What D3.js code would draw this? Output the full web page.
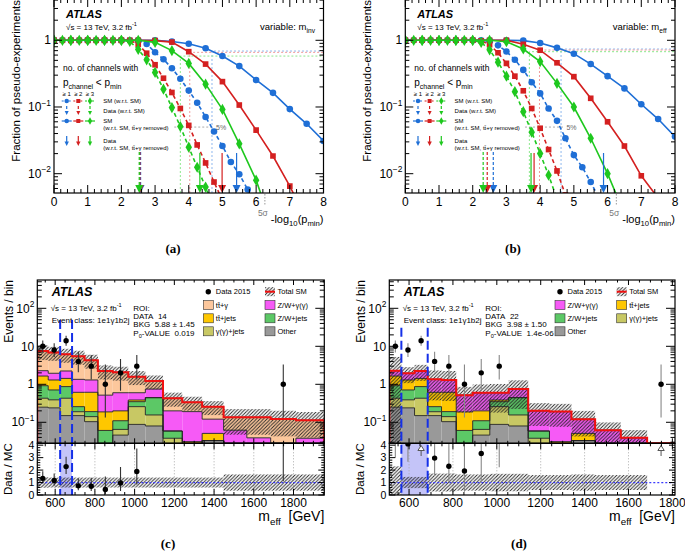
<!DOCTYPE html>
<html>
<head>
<meta charset="UTF-8">
<script src="https://cdn.jsdelivr.net/npm/d3@7"></script>
<style>
  body { margin: 0; background: #fff; }
  text { font-family: "Liberation Sans", Arial, Helvetica, sans-serif; }
</style>
</head>
<body>
<svg id="fig" width="685" height="552"></svg>
<script>
// ---------- panels (a),(b): fraction of pseudo-experiments ----------
const xDash  = [0, 0.25, 0.5, 0.75, 1, 1.25, 1.5, 1.75, 2, 2.25, 2.5, 2.75, 3, 3.25, 3.5, 3.75, 4, 4.25, 4.5, 4.75, 5, 5.25, 5.5, 5.75, 6];
const xSolid = [0, 0.5, 1, 1.5, 2, 2.5, 3, 3.5, 4, 4.5, 5, 5.5, 6, 6.5, 7, 7.5, 8];

// variable m_inv  (>=1, >=2, >=3 channels)
const aBlueDash   = [1,1,1,1,1,1,1,1,1,1, 0.99,0.88,0.66,0.52,0.38,0.265,0.176,0.116,0.071,0.043,0.026,0.015,0.0098,0.0058,0.0032];
const aRedDash    = [1,1,1,1,1,1,1,1,1,1, 0.87,0.64,0.43,0.27,0.165,0.095,0.053,0.027,0.0145,0.0075,0.004];
const aGreenDash  = [1,1,1,1,1,1,1,1,1, 0.96,0.73,0.51,0.33,0.185,0.098,0.051,0.025,0.0125,0.0063,0.003];
const aBlueSolid  = [1,1,1,1,1,1,1,0.96,0.89,0.76,0.58,0.41,0.254,0.163,0.093,0.056,0.031];
const aRedSolid   = [1,1,1,1,1,1,0.99,0.94,0.675,0.44,0.24,0.107,0.045,0.0184,0.0065,0.002];
const aGreenSolid = [1,1,1,1,1,1,0.93,0.70,0.45,0.22,0.092,0.028,0.008,0.0015];
const aThrX = [4.69, 4.03, 3.75];
const aThrF = [0.69, 0.66, 0.58];
const aFive = [3.57, 4.72];
const aDataDash  = [2.57, 2.55, 2.53];
const aDataSolid = [5.42, 4.99, 4.33];

// variable m_eff
const bBlueDash   = [1,1,1,1,1,1,1,1,1,1, 0.97,0.84,0.68,0.51,0.36,0.235,0.16,0.095,0.062,0.034,0.019,0.0125,0.0075,0.0042];
const bRedDash    = [1,1,1,1,1,1,1,1,1, 0.98,0.86,0.65,0.45,0.29,0.175,0.095,0.048,0.023,0.011,0.0048];
const bGreenDash  = [1,1,1,1,1,1,1,1,1, 0.93,0.72,0.47,0.29,0.17,0.085,0.042,0.02,0.0095,0.0042];
const bBlueSolid  = [1,1,1,1,1,1,1,0.99,0.91,0.77,0.63,0.44,0.29,0.19,0.11,0.066,0.036];
const bRedSolid   = [1,1,1,1,1,1,1,0.87,0.71,0.46,0.285,0.135,0.06,0.026,0.0093,0.0043];
const bGreenSolid = [1,1,1,1,1,1,0.95,0.74,0.48,0.226,0.10,0.034,0.01,0.0025];
const bThrX = [4.62, 3.98, 3.68];
const bThrF = [0.74, 0.715, 0.675];
const bFive = [3.55, 4.69];
const bDataDash  = [2.61, 2.43, 2.31];
const bDataSolid = [5.88, 3.82, 3.73];
const fiveSigma = 6.26;

// ---------- panels (c),(d): m_eff distribution, class 1e1γ1b2j ----------
const edges   = [510, 565, 625, 685, 748, 815, 890, 968, 1054, 1143, 1240, 1340, 1448, 1565, 1685, 1812, 1955];
const bkgOther  = [0.25, 0.24, 0.15, 0.15, 0.104, 0, 0.046, 0.088, 0.08, 0, 0, 0.033, 0, 0, 0, 0];
const bkgGJets  = [0.18, 0.15, 0.28, 0.04, 0.037, 0, 0.019, 0.17, 0.076, 0.038, 0, 0, 0, 0, 0, 0];
const bkgZWJets = [0.49, 0.32, 0.44, 0.068, 0.05, 0.061, 0.045, 0.091, 0.289, 0.021, 0, 0, 0, 0, 0, 0];
const bkgTTJets = [0.73, 0.59, 0.56, 0.357, 0.425, 0.127, 0.09, 0.037, 0, 0, 0.031, 0.018, 0, 0, 0, 0];
const bkgZWG    = [0.63, 0.65, 0.81, 0.735, 0.685, 0.33, 0.40, 0.214, 0.305, 0.141, 0.16, 0.07, 0.062, 0.039, 0, 0.038];
const bkgTTG    = [5.2, 4.95, 3.9, 4.1, 2.98, 1.72, 1.47, 0.99, 0.47, 0.23, 0.145, 0.137, 0.073, 0.096, 0.122, 0.075];
const dataCounts = [10, 8, 14, 4, 3, 1, 2, 3, 0, 0, 0, 0, 0, 0, 1, 0];
const relUncC = [0.42, 0.4, 0.4, 0.4, 0.4, 0.4, 0.4, 0.4, 0.4, 0.4, 0.4, 0.4, 0.65, 0.65, 0.65, 0.65];
const relUncD = [1.3, 0.45, 0.45, 0.72, 0.72, 0.65, 0.65, 0.7, 0.7, 0.6, 0.6, 0.65, 0.6, 0.6, 0];

const BLUE = "#1f6fd6", RED = "#d42020", GREEN = "#1ec81e";
const PALE = ["#8fb8ee", "#f09a9a", "#8de88d"];

const svg = d3.select("#fig");
const defs = svg.append("defs");
defs.append("pattern").attr("id", "hatch").attr("patternUnits", "userSpaceOnUse")
  .attr("width", 3.5).attr("height", 3.5)
  .append("path").attr("d", "M-1,1L1,-1M0,3.5L3.5,0M2.5,4.5L4.5,2.5")
  .attr("stroke", "#222").attr("stroke-width", 0.9);

// text with sub/superscripts
function rich(g, x, y, parts, size, o = {}) {
  const t = g.append("text").attr("x", x).attr("y", y).attr("font-size", size)
    .attr("text-anchor", o.anchor || "start").attr("fill", o.fill || "#000");
  if (o.weight) t.attr("font-weight", o.weight);
  if (o.style) t.attr("font-style", o.style);
  if (o.family) t.style("font-family", o.family);
  if (o.rotate) t.attr("transform", `rotate(${o.rotate},${x},${y})`);
  let off = 0;
  parts.forEach(p => {
    const [s, k] = Array.isArray(p) ? p : [p, ""];
    const target = k === "sup" ? -0.45 * size : k === "sub" ? 0.3 * size : 0;
    t.append("tspan").attr("dy", target - off).attr("font-size", k ? size * 0.7 : size).text(s);
    off = target;
  });
  return t;
}

function logTicks([a, b]) {
  const out = [];
  for (let e = Math.floor(Math.log10(a)); e <= Math.ceil(Math.log10(b)); e++)
    for (let k = 1; k < 10; k++) {
      const v = k * Math.pow(10, e);
      if (v >= a && v <= b) out.push({v, major: k === 1});
    }
  return out;
}
function linTicks(a, b, minor, major) {
  return d3.range(Math.ceil(a / minor - 1e-9) * minor, b + 1e-9, minor)
    .map(v => ({v, major: Math.abs(v / major - Math.round(v / major)) < 1e-6}));
}
function frameTicks(g, x, y, xt, yt, xl, yl, box, topTicks = true) {
  const [left, right, bottom, top] = box;
  const segs = [];
  xt.forEach(t => {
    const px = x(t.v), l = t.major ? xl[0] : xl[1];
    if (px < left - 0.1 || px > right + 0.1) return;
    segs.push([px, bottom, px, bottom - l]);
    if (topTicks) segs.push([px, top, px, top + l]);
  });
  yt.forEach(t => {
    const py = y(t.v), l = t.major ? yl[0] : yl[1];
    if (py < top - 0.1 || py > bottom + 0.1) return;
    segs.push([left, py, left + l, py], [right, py, right - l, py]);
  });
  g.append("g").selectAll("line").data(segs).join("line")
    .attr("x1", d => d[0]).attr("y1", d => d[1]).attr("x2", d => d[2]).attr("y2", d => d[3])
    .attr("stroke", "#000").attr("stroke-width", 1);
  g.append("rect").attr("x", left).attr("y", top).attr("width", right - left).attr("height", bottom - top)
    .attr("fill", "none").attr("stroke", "#000").attr("stroke-width", 1.2);
}

// ---------- scan panel ----------
function scanPanel(p) {
  const g = svg.append("g");
  const x = d3.scaleLinear().domain([0, 8]).range([p.x0, p.x1]);
  const y = d3.scaleLog().domain([0.005136, 4.16]).range([193, -1]);
  const cols = [BLUE, RED, GREEN];
  const cid = "clip" + p.id;
  g.append("clipPath").attr("id", cid).append("rect")
    .attr("x", p.x0).attr("y", -1).attr("width", p.x1 - p.x0).attr("height", 194);
  const inner = g.append("g").attr("clip-path", `url(#${cid})`);

  p.thrX.forEach((t, i) => {
    inner.append("path").attr("d", `M${x(t)},193V${y(p.thrF[i])}H${p.x1}`)
      .attr("fill", "none").attr("stroke", PALE[i]).attr("stroke-dasharray", "2,2");
  });
  inner.append("line").attr("x1", x(p.five[0])).attr("x2", x(p.five[1]))
    .attr("y1", y(0.05)).attr("y2", y(0.05)).attr("stroke", "#aaa").attr("stroke-dasharray", "2,2");
  rich(g, x(p.five[1]) + 3, y(0.05) + 2.5, ["5%"], 7, {fill: "#666"});

  const syms = [d3.symbolCircle, d3.symbolSquare, d3.symbolDiamond];
  const symSize = [34, 32, 36];
  const curve = (xs, vals, i, dashed) => {
    const pts = vals.map((v, j) => [xs[j], v]);
    inner.append("path").datum(pts)
      .attr("d", d3.line().x(d => x(d[0])).y(d => y(d[1])))
      .attr("fill", "none").attr("stroke", cols[i]).attr("stroke-width", 1.6)
      .attr("stroke-dasharray", dashed ? "4,3" : null);
    inner.append("g").selectAll("path").data(pts).join("path")
      .attr("transform", d => `translate(${x(d[0])},${y(d[1])})`)
      .attr("d", d3.symbol(syms[i], symSize[i])).attr("fill", cols[i]);
  };
  p.dash.forEach((v, i) => curve(xDash, v, i, true));
  p.solid.forEach((v, i) => curve(xSolid, v, i, false));

  const arrow = (gg, px, y1, y2, col, dashed, hw) => {
    gg.append("line").attr("x1", px).attr("x2", px).attr("y1", y1).attr("y2", y2 - hw * 1.8)
      .attr("stroke", col).attr("stroke-width", 1.2).attr("stroke-dasharray", dashed ? "3,2" : null);
    gg.append("path").attr("d", `M${px - hw},${y2 - hw * 2}L${px + hw},${y2 - hw * 2}L${px},${y2}Z`).attr("fill", col);
  };
  p.dataDash.forEach((v, i) => arrow(inner, x(v), 152, 193, cols[i], true, 4));
  p.dataSolid.forEach((v, i) => arrow(inner, x(v), 153, 193, cols[i], false, 4));

  frameTicks(g, x, y, linTicks(0, 8, 0.2, 1), logTicks(y.domain()), [8, 4], [8, 4], [p.x0, p.x1, 193, -1]);
  d3.range(0, 9).forEach(v => rich(g, x(v), 206, [String(v)], 12, {anchor: "middle"}));
  rich(g, p.x0 - 3, y(1) + 4.2, ["1"], 12, {anchor: "end"});
  rich(g, p.x0 - 3, y(0.1) + 4.2, ["10", ["\u22121", "sup"]], 12, {anchor: "end"});
  rich(g, p.x0 - 3, y(0.01) + 4.2, ["10", ["\u22122", "sup"]], 12, {anchor: "end"});
  rich(g, p.x1, 223, ["-log", ["10", "sub"], "(p", ["min", "sub"], ")"], 11, {anchor: "end"});
  const xs5 = x(fiveSigma);
  g.append("line").attr("x1", xs5).attr("x2", xs5).attr("y1", 194).attr("y2", 205)
    .attr("stroke", "#999").attr("stroke-dasharray", "1.5,1.5");
  rich(g, xs5 - 2, 216, ["5\u03c3"], 8.5, {anchor: "middle", fill: "#777"});
  rich(g, p.x0 - 34, 0, ["Fraction of pseudo-experiments"], 11.5, {anchor: "end", rotate: -90});

  rich(g, p.x0 + 12, 18, ["ATLAS"], 11, {weight: "bold", style: "italic"});
  rich(g, p.x0 + 12, 30, ["\u221as = 13 TeV, 3.2 fb", ["-1", "sup"]], 8);
  rich(g, p.x1 - 8.5, 30, ["variable: m", [p.varSub, "sub"]], 9.5, {anchor: "end"});

  // legend
  const lx = p.x0;
  rich(g, lx + 9, 71, ["no. of channels with"], 8.5);
  rich(g, lx + 9, 85.5, ["p", ["channel", "sub"], " < p", ["min", "sub"]], 10);
  const lc = [lx + 12.7, lx + 24.3, lx + 36];
  lc.forEach((c, i) => {
    rich(g, c, 96, ["\u2265 " + (i + 1)], 6, {anchor: "middle"});
    [[101, "4,3"], [121, null]].forEach(([yy, da]) => {
      g.append("line").attr("x1", c - 5).attr("x2", c + 5).attr("y1", yy).attr("y2", yy)
        .attr("stroke", cols[i]).attr("stroke-width", 1.2).attr("stroke-dasharray", da ? "2,1.5" : null);
      g.append("path").attr("transform", `translate(${c},${yy})`).attr("d", d3.symbol(syms[i], 16)).attr("fill", cols[i]);
    });
    arrow(g, c, 106, 115, cols[i], true, 2);
    arrow(g, c, 136, 146, cols[i], false, 2.2);
  });
  const tx = lx + 49.3;
  rich(g, tx, 103, ["SM (w.r.t. SM)"], 6);
  rich(g, tx, 113, ["Data (w.r.t. SM)"], 6);
  rich(g, tx, 123, ["SM"], 6);
  rich(g, tx, 130, ["(w.r.t. SM, tt\u0304+\u03b3 removed)"], 6);
  rich(g, tx, 143, ["Data"], 6);
  rich(g, tx, 150, ["(w.r.t. SM, tt\u0304+\u03b3 removed)"], 6);
}

scanPanel({id: "a", x0: 54, x1: 323.5, varSub: "inv",
  dash: [aBlueDash, aRedDash, aGreenDash], solid: [aBlueSolid, aRedSolid, aGreenSolid],
  thrX: aThrX, thrF: aThrF, five: aFive, dataDash: aDataDash, dataSolid: aDataSolid});
scanPanel({id: "b", x0: 405.3, x1: 675, varSub: "eff",
  dash: [bBlueDash, bRedDash, bGreenDash], solid: [bBlueSolid, bRedSolid, bGreenSolid],
  thrX: bThrX, thrF: bThrF, five: bFive, dataDash: bDataDash, dataSolid: bDataSolid});

// ---------- histogram panel ----------
const comps = {
  other:  {vals: bkgOther,  color: "#999999", label: ["Other"]},
  gjets:  {vals: bkgGJets,  color: "#c8c864", label: ["\u03b3(\u03b3)+jets"]},
  zwjets: {vals: bkgZWJets, color: "#5cc866", label: ["Z/W+jets"]},
  ttjets: {vals: bkgTTJets, color: "#fec700", label: ["tt\u0304+jets"]},
  zwg:    {vals: bkgZWG,    color: "#f65af6", label: ["Z/W+\u03b3(\u03b3)"]},
  ttg:    {vals: bkgTTG,    color: "#fcc79c", label: ["tt\u0304+\u03b3"]}
};

function musicPanel(p) {
  const nb = p.nb, yTop = 280, yMid = 443.3, yBot = 495, ymin = 0.028;
  const g = svg.append("g");
  const x = d3.scaleLinear().domain([edges[0], edges[nb]]).range([p.x0, p.x1]);
  const y = d3.scaleLog().domain([ymin, 556]).range([yMid, yTop]);
  const r = d3.scaleLinear().domain([0, 4.15]).range([yBot, yMid]);
  const bins = d3.range(nb);
  const rows = bins.map(i => Object.fromEntries(p.keys.map(k => [k, comps[k].vals[i]])));
  const series = d3.stack().keys(p.keys)(rows);
  const total = rows.map(o => d3.sum(p.keys, k => o[k]));
  const yc = v => y(Math.max(v, ymin));
  const bx = i => x(edges[i]), bw = i => x(edges[i + 1]) - x(edges[i]);
  const cx = i => x((edges[i] + edges[i + 1]) / 2);

  const cu = "clipU" + p.id, cr = "clipR" + p.id;
  g.append("clipPath").attr("id", cu).append("rect").attr("x", p.x0).attr("y", yTop).attr("width", p.x1 - p.x0).attr("height", yMid - yTop);
  g.append("clipPath").attr("id", cr).append("rect").attr("x", p.x0).attr("y", yMid).attr("width", p.x1 - p.x0).attr("height", yBot - yMid);
  const up = g.append("g").attr("clip-path", `url(#${cu})`);
  const lo = g.append("g").attr("clip-path", `url(#${cr})`);

  series.forEach((s, k) => {
    up.append("g").selectAll("rect").data(bins.filter(i => s[i][1] > s[i][0] && s[i][1] > ymin)).join("rect")
      .attr("x", bx).attr("width", bw)
      .attr("y", i => y(s[i][1])).attr("height", i => yc(s[i][0]) - y(s[i][1]))
      .attr("fill", comps[p.keys[k]].color);
  });
  const steps = vals => {
    let d = `M${bx(0)},${yMid}`;
    vals.forEach((v, i) => { d += `V${yc(v)}H${bx(i + 1)}`; });
    return d + `V${yMid}`;
  };
  series.forEach(s => up.append("path").attr("d", steps(s.map(d => d[1])))
    .attr("fill", "none").attr("stroke", "#222").attr("stroke-width", 0.9));
  up.append("g").selectAll("rect").data(bins.filter(i => total[i] > 0)).join("rect")
    .attr("x", bx).attr("width", bw)
    .attr("y", i => y(total[i] * (1 + p.unc[i])))
    .attr("height", i => yc(total[i] * (1 - p.unc[i])) - y(total[i] * (1 + p.unc[i])))
    .attr("fill", "url(#hatch)");
  up.append("path").attr("d", steps(total)).attr("fill", "none").attr("stroke", "#f01010").attr("stroke-width", 2);

  // ratio pad
  lo.append("rect").attr("x", x(p.roi[0])).attr("width", x(p.roi[1]) - x(p.roi[0]))
    .attr("y", yMid).attr("height", yBot - yMid).attr("fill", "#c4c4f8");
  d3.range(600, 1801, 200).forEach(v => lo.append("line").attr("x1", x(v)).attr("x2", x(v))
    .attr("y1", yMid).attr("y2", yBot).attr("stroke", "#aaa").attr("stroke-dasharray", "1,2"));
  lo.append("g").selectAll("rect").data(bins.filter(i => total[i] > 0)).join("rect")
    .attr("x", bx).attr("width", bw)
    .attr("y", i => r(1 + p.unc[i])).attr("height", i => r(Math.max(1 - p.unc[i], 0)) - r(1 + p.unc[i]))
    .attr("fill", "url(#hatch)");
  lo.append("line").attr("x1", p.x0).attr("x2", p.x1).attr("y1", r(1)).attr("y2", r(1))
    .attr("stroke", "#3b3bff").attr("stroke-width", 1.3).attr("stroke-dasharray", "2,2");

  p.roi.forEach(v => g.append("line").attr("x1", x(v)).attr("x2", x(v)).attr("y1", p.roiTop).attr("y2", yBot)
    .attr("stroke", "#1530e8").attr("stroke-width", 2).attr("stroke-dasharray", "9,4"));

  // data
  const errUp = n => Math.sqrt(n + 0.75) + 1, errDn = n => Math.sqrt(n - 0.25);
  const pts = bins.filter(i => dataCounts[i] > 0);
  up.append("g").selectAll("line").data(pts).join("line")
    .attr("x1", cx).attr("x2", cx)
    .attr("y1", i => yc(dataCounts[i] - errDn(dataCounts[i]))).attr("y2", i => y(dataCounts[i] + errUp(dataCounts[i])))
    .attr("stroke", p.barCol).attr("stroke-width", 1.1);
  up.append("g").selectAll("circle").data(pts).join("circle")
    .attr("cx", cx).attr("cy", i => y(dataCounts[i])).attr("r", 2.7).attr("fill", "#000");
  pts.forEach(i => {
    const n = dataCounts[i], t = total[i], px = cx(i);
    if (t <= 0 || (n - errDn(n)) / t > 4.15) {
      lo.append("line").attr("x1", px).attr("x2", px).attr("y1", 456).attr("y2", 450).attr("stroke", "#555");
      lo.append("path").attr("d", `M${px - 3.2},450.5L${px + 3.2},450.5L${px},445.5Z`)
        .attr("fill", "#fff").attr("stroke", "#555");
      return;
    }
    const rv = n / t, rl = (n - errDn(n)) / t, rh = (n + errUp(n)) / t;
    lo.append("line").attr("x1", px).attr("x2", px).attr("y1", r(Math.max(rl, 0))).attr("y2", r(Math.min(rh, 4.15)))
      .attr("stroke", p.barCol).attr("stroke-width", 1.1);
    if (rv <= 4.15) lo.append("circle").attr("cx", px).attr("cy", r(rv)).attr("r", 2.7).attr("fill", "#000");
  });

  // frames, ticks, labels
  const xt = linTicks(edges[0], edges[nb], 50, 200);
  frameTicks(g, x, y, xt, logTicks(y.domain()), [5, 2.5], [9, 4.5], [p.x0, p.x1, yMid, yTop]);
  frameTicks(g, x, r, xt, linTicks(0, 4.15, 0.2, 1), [6, 3], [6, 3], [p.x0, p.x1, yBot, yMid]);
  [[100, ["10", ["2", "sup"]]], [10, ["10"]], [1, ["1"]], [0.1, ["10", ["\u22121", "sup"]]]]
    .forEach(([v, t]) => rich(g, p.x0 - 3, y(v) + 4.2, t, 12, {anchor: "end"}));
  d3.range(0, 5).forEach(v => rich(g, p.x0 - 3, r(v) + 3.8, [String(v)], 10.5, {anchor: "end"}));
  d3.range(600, 1801, 200).forEach(v => rich(g, x(v), 506.5, [String(v)], 12, {anchor: "middle"}));
  rich(g, p.x1, 521, ["m", ["eff", "sub"], "\u00a0\u00a0[GeV]"], 14, {anchor: "end"});
  rich(g, p.x0 - 24, yTop, ["Events / bin"], 12, {anchor: "end", rotate: -90});
  rich(g, p.x0 - 25, (yMid + yBot) / 2, ["Data / MC"], 11.5, {anchor: "middle", rotate: -90});

  // annotations
  const ax = p.x0 + 14.4;
  rich(g, ax, 295.5, ["ATLAS"], 12.5, {weight: "bold", style: "italic"});
  rich(g, ax - 1, 310.6, ["\u221as = 13 TeV, 3.2 fb", ["-1", "sup"]], 8);
  rich(g, ax, 322.9, ["Event class: 1e1\u03b31b2j"], 8);
  const rx = p.x0 + 96;
  rich(g, rx, 310.6, ["ROI:"], 8);
  rich(g, rx, 318.6, ["DATA\u00a0\u00a0" + p.roiData], 8);
  rich(g, rx, 327.2, ["BKG\u00a0\u00a0" + p.roiBkg], 8);
  rich(g, rx, 335.6, ["P", ["0", "sub"], "-VALUE\u00a0\u00a0" + p.roiP], 8);

  // legend
  const rowsY = [291.7, 305, 318.3, 331.3];
  p.legend.forEach(([k, col, row]) => {
    const lx = p.legX[col], ly = rowsY[row];
    if (k === "data") {
      g.append("circle").attr("cx", lx + 5).attr("cy", ly).attr("r", 2.7).attr("fill", "#000");
      rich(g, lx + 12.5, ly + 2.7, ["Data 2015"], 7.5);
    } else if (k === "total") {
      g.append("rect").attr("x", lx).attr("y", ly - 4.5).attr("width", 10).attr("height", 9).attr("fill", "url(#hatch)");
      g.append("line").attr("x1", lx).attr("x2", lx + 10).attr("y1", ly).attr("y2", ly).attr("stroke", "#f01010").attr("stroke-width", 2);
      rich(g, lx + 12.5, ly + 2.7, ["Total SM"], 7.5);
    } else {
      g.append("rect").attr("x", lx).attr("y", ly - 4.5).attr("width", 10).attr("height", 9)
        .attr("fill", comps[k].color).attr("stroke", "#333").attr("stroke-width", 0.6);
      rich(g, lx + 12.5, ly + 2.7, comps[k].label, 7.5);
    }
  });
}

musicPanel({id: "c", nb: 16, x0: 37.3, x1: 324.3, keys: ["other", "gjets", "zwjets", "ttjets", "zwg", "ttg"],
  unc: relUncC, roi: [625, 685], roiTop: 320, barCol: "#333",
  roiData: "14", roiBkg: "5.88 \u00b1 1.45", roiP: "0.019", legX: [203.3, 265],
  legend: [["data", 0, 0], ["total", 1, 0], ["ttg", 0, 1], ["zwg", 1, 1], ["ttjets", 0, 2], ["zwjets", 1, 2], ["gjets", 0, 3], ["other", 1, 3]]});
musicPanel({id: "d", nb: 15, x0: 389.3, x1: 675, keys: ["other", "gjets", "zwjets", "ttjets", "zwg"],
  unc: relUncD, roi: [565, 685], roiTop: 327.7, barCol: "#888",
  roiData: "22", roiBkg: "3.98 \u00b1 1.50", roiP: "1.4e-06", legX: [555, 616.7],
  legend: [["data", 0, 0], ["total", 1, 0], ["zwg", 0, 1], ["ttjets", 1, 1], ["zwjets", 0, 2], ["gjets", 1, 2], ["other", 0, 3]]});

// panel labels
[["(a)", 173, 253], ["(b)", 513, 253], ["(c)", 168, 548], ["(d)", 519, 548]].forEach(([t, x, y]) =>
  rich(svg, x, y, [t], 13, {anchor: "middle", weight: "bold", family: '"Liberation Serif", "Times New Roman", serif'}));
</script>
</body>
</html>
